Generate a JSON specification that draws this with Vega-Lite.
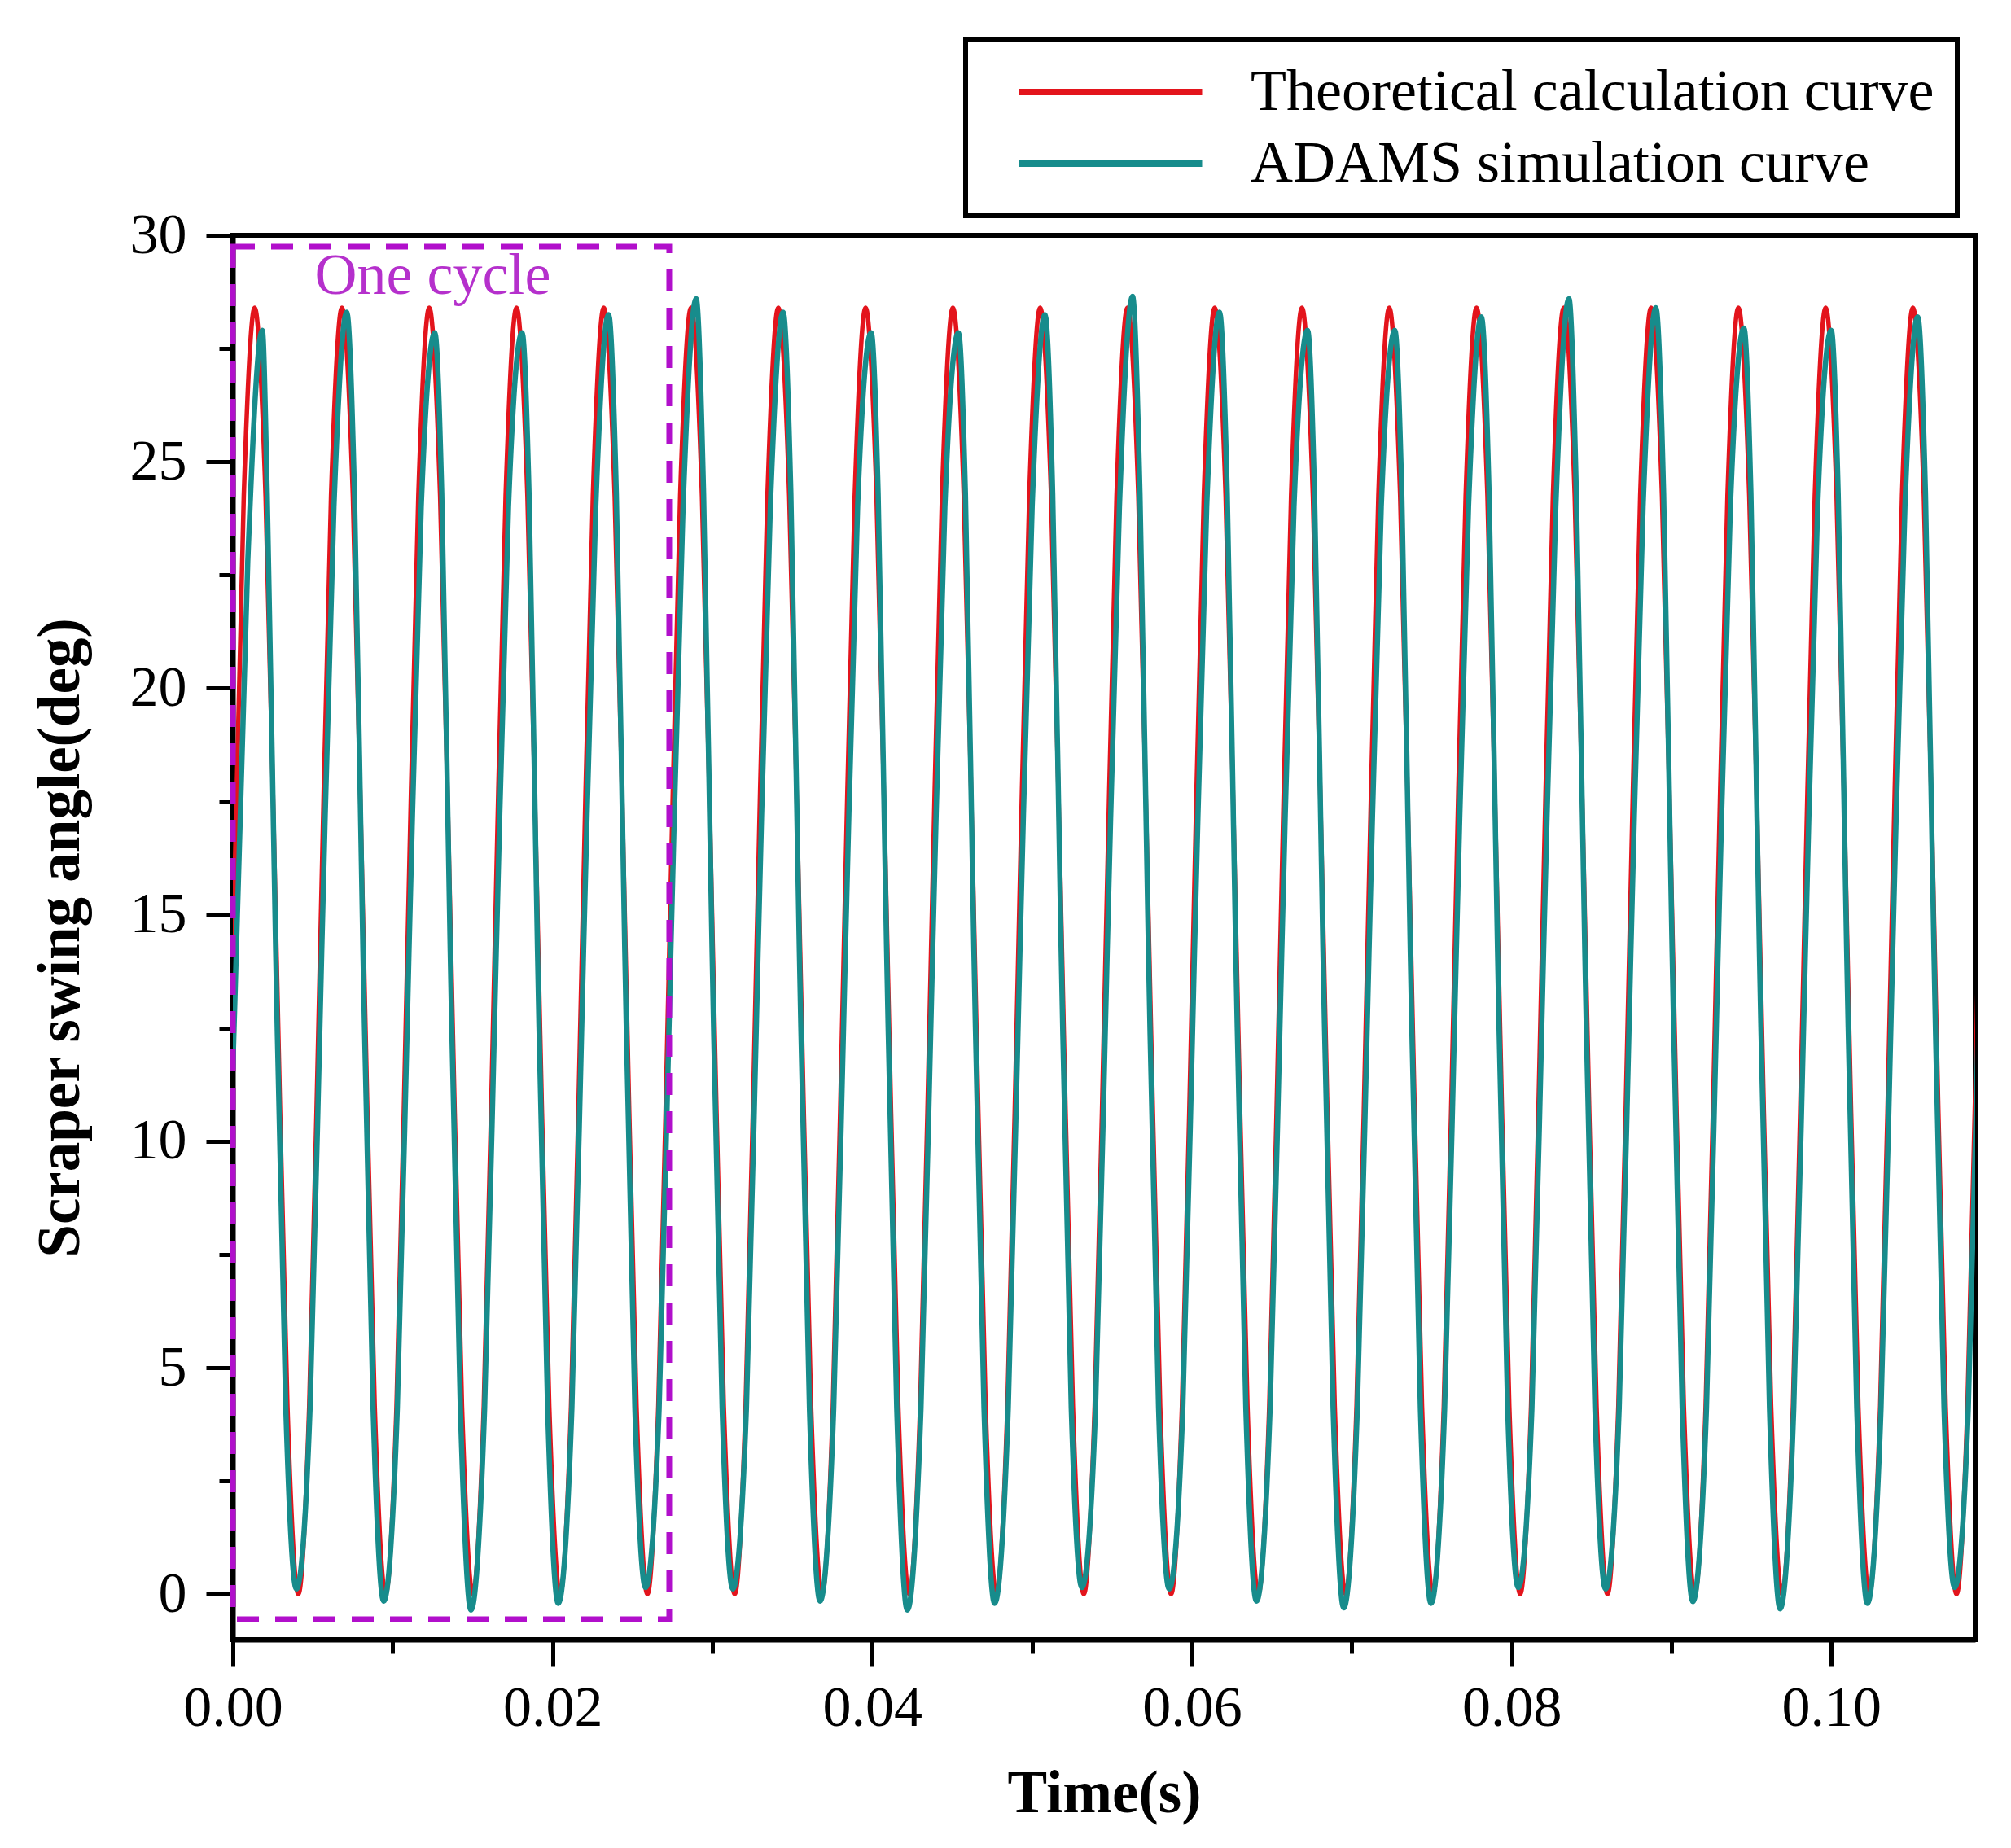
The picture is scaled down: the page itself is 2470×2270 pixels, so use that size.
{
"$schema": "https://vega.github.io/schema/vega-lite/v6.json",
"width": 2140,
"height": 1725,
"autosize": {"type": "none"},
"padding": {"left": 286, "top": 289, "right": 44, "bottom": 256},
"background": "white",
"config": {
  "font": "Liberation Serif",
  "view": {"stroke": "black", "strokeWidth": 6},
  "axis": {"grid": false, "domainColor": "black", "domainWidth": 6, "tickColor": "black", "tickWidth": 5, "labelFont": "Liberation Serif", "labelFontSize": 70, "labelColor": "black", "titleFont": "Liberation Serif", "titleFontSize": 73, "titleFontWeight": "bold", "titleColor": "black", "labelOverlap": false, "labelFlush": false},
  "legend": {"strokeWidth": 6}
},
"datasets": {
  "red": [
    {"t":0,"v":14.2},{"t":0.000683,"v":24.24},{"t":0.001365,"v":28.4},{"t":0.002048,"v":24.24},{"t":0.00273,"v":14.2},{"t":0.003413,"v":4.16},{"t":0.004095,"v":0},{"t":0.004778,"v":4.16},
    {"t":0.00546,"v":14.2},{"t":0.006143,"v":24.24},{"t":0.006825,"v":28.4},{"t":0.007508,"v":24.24},{"t":0.00819,"v":14.2},{"t":0.008873,"v":4.16},{"t":0.009555,"v":0},{"t":0.010238,"v":4.16},
    {"t":0.01092,"v":14.2},{"t":0.011603,"v":24.24},{"t":0.012285,"v":28.4},{"t":0.012968,"v":24.24},{"t":0.01365,"v":14.2},{"t":0.014333,"v":4.16},{"t":0.015015,"v":0},{"t":0.015698,"v":4.16},
    {"t":0.01638,"v":14.2},{"t":0.017063,"v":24.24},{"t":0.017745,"v":28.4},{"t":0.018428,"v":24.24},{"t":0.01911,"v":14.2},{"t":0.019793,"v":4.16},{"t":0.020475,"v":0},{"t":0.021158,"v":4.16},
    {"t":0.02184,"v":14.2},{"t":0.022523,"v":24.24},{"t":0.023205,"v":28.4},{"t":0.023888,"v":24.24},{"t":0.02457,"v":14.2},{"t":0.025253,"v":4.16},{"t":0.025935,"v":0},{"t":0.026618,"v":4.16},
    {"t":0.0273,"v":14.2},{"t":0.027983,"v":24.24},{"t":0.028665,"v":28.4},{"t":0.029348,"v":24.24},{"t":0.03003,"v":14.2},{"t":0.030713,"v":4.16},{"t":0.031395,"v":0},{"t":0.032078,"v":4.16},
    {"t":0.03276,"v":14.2},{"t":0.033443,"v":24.24},{"t":0.034125,"v":28.4},{"t":0.034808,"v":24.24},{"t":0.03549,"v":14.2},{"t":0.036173,"v":4.16},{"t":0.036855,"v":0},{"t":0.037538,"v":4.16},
    {"t":0.03822,"v":14.2},{"t":0.038903,"v":24.24},{"t":0.039585,"v":28.4},{"t":0.040268,"v":24.24},{"t":0.04095,"v":14.2},{"t":0.041633,"v":4.16},{"t":0.042315,"v":0},{"t":0.042998,"v":4.16},
    {"t":0.04368,"v":14.2},{"t":0.044363,"v":24.24},{"t":0.045045,"v":28.4},{"t":0.045728,"v":24.24},{"t":0.04641,"v":14.2},{"t":0.047093,"v":4.16},{"t":0.047775,"v":0},{"t":0.048458,"v":4.16},
    {"t":0.04914,"v":14.2},{"t":0.049823,"v":24.24},{"t":0.050505,"v":28.4},{"t":0.051188,"v":24.24},{"t":0.05187,"v":14.2},{"t":0.052553,"v":4.16},{"t":0.053235,"v":0},{"t":0.053918,"v":4.16},
    {"t":0.0546,"v":14.2},{"t":0.055283,"v":24.24},{"t":0.055965,"v":28.4},{"t":0.056648,"v":24.24},{"t":0.05733,"v":14.2},{"t":0.058013,"v":4.16},{"t":0.058695,"v":0},{"t":0.059378,"v":4.16},
    {"t":0.06006,"v":14.2},{"t":0.060743,"v":24.24},{"t":0.061425,"v":28.4},{"t":0.062108,"v":24.24},{"t":0.06279,"v":14.2},{"t":0.063473,"v":4.16},{"t":0.064155,"v":0},{"t":0.064838,"v":4.16},
    {"t":0.06552,"v":14.2},{"t":0.066203,"v":24.24},{"t":0.066885,"v":28.4},{"t":0.067568,"v":24.24},{"t":0.06825,"v":14.2},{"t":0.068933,"v":4.16},{"t":0.069615,"v":0},{"t":0.070298,"v":4.16},
    {"t":0.07098,"v":14.2},{"t":0.071663,"v":24.24},{"t":0.072345,"v":28.4},{"t":0.073028,"v":24.24},{"t":0.07371,"v":14.2},{"t":0.074393,"v":4.16},{"t":0.075075,"v":0},{"t":0.075758,"v":4.16},
    {"t":0.07644,"v":14.2},{"t":0.077123,"v":24.24},{"t":0.077805,"v":28.4},{"t":0.078488,"v":24.24},{"t":0.07917,"v":14.2},{"t":0.079853,"v":4.16},{"t":0.080535,"v":0},{"t":0.081218,"v":4.16},
    {"t":0.0819,"v":14.2},{"t":0.082583,"v":24.24},{"t":0.083265,"v":28.4},{"t":0.083948,"v":24.24},{"t":0.08463,"v":14.2},{"t":0.085313,"v":4.16},{"t":0.085995,"v":0},{"t":0.086678,"v":4.16},
    {"t":0.08736,"v":14.2},{"t":0.088043,"v":24.24},{"t":0.088725,"v":28.4},{"t":0.089408,"v":24.24},{"t":0.09009,"v":14.2},{"t":0.090773,"v":4.16},{"t":0.091455,"v":0},{"t":0.092138,"v":4.16},
    {"t":0.09282,"v":14.2},{"t":0.093503,"v":24.24},{"t":0.094185,"v":28.4},{"t":0.094868,"v":24.24},{"t":0.09555,"v":14.2},{"t":0.096233,"v":4.16},{"t":0.096915,"v":0},{"t":0.097598,"v":4.16},
    {"t":0.09828,"v":14.2},{"t":0.098963,"v":24.24},{"t":0.099645,"v":28.4},{"t":0.100328,"v":24.24},{"t":0.10101,"v":14.2},{"t":0.101693,"v":4.16},{"t":0.102375,"v":0},{"t":0.103058,"v":4.16},
    {"t":0.10374,"v":14.2},{"t":0.104423,"v":24.24},{"t":0.105105,"v":28.4},{"t":0.105788,"v":24.24},{"t":0.10647,"v":14.2},{"t":0.107153,"v":4.16},{"t":0.107835,"v":0},{"t":0.108518,"v":4.16},
    {"t":0.1092,"v":14.2},{"t":0.109883,"v":24.24}
  ],
  "teal": [
    {"t":0,"v":11.6},{"t":0.000933,"v":22.8},{"t":0.001845,"v":27.9},{"t":0.002148,"v":24.3},{"t":0.00268,"v":14.2},{"t":0.003313,"v":4.1},{"t":0.003975,"v":0.12},{"t":0.004828,"v":4.1},
    {"t":0.00556,"v":14.2},{"t":0.006323,"v":24.0},{"t":0.007125,"v":28.3},{"t":0.007608,"v":24.3},{"t":0.00814,"v":14.2},{"t":0.008773,"v":4.1},{"t":0.009435,"v":-0.15},{"t":0.010288,"v":4.1},
    {"t":0.01102,"v":14.2},{"t":0.011783,"v":24.0},{"t":0.012635,"v":27.85},{"t":0.013068,"v":24.3},{"t":0.0136,"v":14.2},{"t":0.014233,"v":4.1},{"t":0.014895,"v":-0.35},{"t":0.015748,"v":4.1},
    {"t":0.01648,"v":14.2},{"t":0.017243,"v":24.0},{"t":0.018095,"v":27.85},{"t":0.018528,"v":24.3},{"t":0.01906,"v":14.2},{"t":0.019693,"v":4.1},{"t":0.020355,"v":-0.2},{"t":0.021208,"v":4.1},
    {"t":0.02194,"v":14.2},{"t":0.022703,"v":24.0},{"t":0.023505,"v":28.25},{"t":0.023988,"v":24.3},{"t":0.02452,"v":14.2},{"t":0.025153,"v":4.1},{"t":0.025815,"v":0.15},{"t":0.026668,"v":4.1},
    {"t":0.0274,"v":14.2},{"t":0.028163,"v":24.0},{"t":0.028985,"v":28.6},{"t":0.029448,"v":24.3},{"t":0.02998,"v":14.2},{"t":0.030613,"v":4.1},{"t":0.031275,"v":0.12},{"t":0.032128,"v":4.1},
    {"t":0.03286,"v":14.2},{"t":0.033623,"v":24.0},{"t":0.034425,"v":28.3},{"t":0.034908,"v":24.3},{"t":0.03544,"v":14.2},{"t":0.036073,"v":4.1},{"t":0.036735,"v":-0.15},{"t":0.037588,"v":4.1},
    {"t":0.03832,"v":14.2},{"t":0.039083,"v":24.0},{"t":0.039935,"v":27.85},{"t":0.040368,"v":24.3},{"t":0.0409,"v":14.2},{"t":0.041533,"v":4.1},{"t":0.042195,"v":-0.35},{"t":0.043048,"v":4.1},
    {"t":0.04378,"v":14.2},{"t":0.044543,"v":24.0},{"t":0.045395,"v":27.85},{"t":0.045828,"v":24.3},{"t":0.04636,"v":14.2},{"t":0.046993,"v":4.1},{"t":0.047655,"v":-0.2},{"t":0.048508,"v":4.1},
    {"t":0.04924,"v":14.2},{"t":0.050003,"v":24.0},{"t":0.050805,"v":28.25},{"t":0.051288,"v":24.3},{"t":0.05182,"v":14.2},{"t":0.052453,"v":4.1},{"t":0.053115,"v":0.15},{"t":0.053968,"v":4.1},
    {"t":0.0547,"v":14.2},{"t":0.055463,"v":24.0},{"t":0.056285,"v":28.65},{"t":0.056748,"v":24.3},{"t":0.05728,"v":14.2},{"t":0.057913,"v":4.1},{"t":0.058575,"v":0.12},{"t":0.059428,"v":4.1},
    {"t":0.06016,"v":14.2},{"t":0.060923,"v":24.0},{"t":0.061725,"v":28.3},{"t":0.062208,"v":24.3},{"t":0.06274,"v":14.2},{"t":0.063373,"v":4.1},{"t":0.064035,"v":-0.15},{"t":0.064888,"v":4.1},
    {"t":0.06562,"v":14.2},{"t":0.066383,"v":24.0},{"t":0.067235,"v":27.9},{"t":0.067668,"v":24.3},{"t":0.0682,"v":14.2},{"t":0.068833,"v":4.1},{"t":0.069495,"v":-0.3},{"t":0.070348,"v":4.1},
    {"t":0.07108,"v":14.2},{"t":0.071843,"v":24.0},{"t":0.072695,"v":27.9},{"t":0.073128,"v":24.3},{"t":0.07366,"v":14.2},{"t":0.074293,"v":4.1},{"t":0.074955,"v":-0.2},{"t":0.075808,"v":4.1},
    {"t":0.07654,"v":14.2},{"t":0.077303,"v":24.0},{"t":0.078105,"v":28.2},{"t":0.078588,"v":24.3},{"t":0.07912,"v":14.2},{"t":0.079753,"v":4.1},{"t":0.080415,"v":0.15},{"t":0.081268,"v":4.1},
    {"t":0.082,"v":14.2},{"t":0.082763,"v":24.0},{"t":0.083585,"v":28.6},{"t":0.084048,"v":24.3},{"t":0.08458,"v":14.2},{"t":0.085213,"v":4.1},{"t":0.085875,"v":0.12},{"t":0.086728,"v":4.1},
    {"t":0.08746,"v":14.2},{"t":0.088223,"v":24.0},{"t":0.089025,"v":28.4},{"t":0.089508,"v":24.3},{"t":0.09004,"v":14.2},{"t":0.090673,"v":4.1},{"t":0.091335,"v":-0.16},{"t":0.092188,"v":4.1},
    {"t":0.09292,"v":14.2},{"t":0.093683,"v":24.0},{"t":0.094535,"v":27.95},{"t":0.094968,"v":24.3},{"t":0.0955,"v":14.2},{"t":0.096133,"v":4.1},{"t":0.096795,"v":-0.32},{"t":0.097648,"v":4.1},
    {"t":0.09838,"v":14.2},{"t":0.099143,"v":24.0},{"t":0.099995,"v":27.9},{"t":0.100428,"v":24.3},{"t":0.10096,"v":14.2},{"t":0.101593,"v":4.1},{"t":0.102255,"v":-0.2},{"t":0.103108,"v":4.1},
    {"t":0.10384,"v":14.2},{"t":0.104603,"v":24.0},{"t":0.105405,"v":28.2},{"t":0.105888,"v":24.3},{"t":0.10642,"v":14.2},{"t":0.107053,"v":4.1},{"t":0.107715,"v":0.15},{"t":0.108568,"v":4.1},
    {"t":0.1093,"v":14.2},{"t":0.110063,"v":24.0}
  ],
  "box": [{"t":0,"t2":0.0273,"v":-0.55,"v2":29.75}],
  "note": [{"t":0.0125,"v":29.1,"label":"One cycle"}]
},
"encoding": {
  "x": {"field": "t", "type": "quantitative", "scale": {"domain": [0, 0.109], "nice": false, "zero": false},
        "axis": {"title": "Time(s)", "values": [0,0.01,0.02,0.03,0.04,0.05,0.06,0.07,0.08,0.09,0.1],
                 "labelExpr": "round(datum.value*100) % 2 == 0 ? format(datum.value, '.2f') : ''",
                 "tickSize": {"condition": {"test": "round(datum.value*100) % 2 != 0", "value": 17}, "value": 33},
                 "labelPadding": 17, "titlePadding": 34}},
  "y": {"field": "v", "type": "quantitative", "scale": {"domain": [-1, 30], "nice": false, "zero": false},
        "axis": {"title": "Scraper swing angle(deg)", "values": [0,2.5,5,7.5,10,12.5,15,17.5,20,22.5,25,27.5,30],
                 "labelExpr": "datum.value % 5 == 0 ? format(datum.value, 'd') : ''",
                 "tickSize": {"condition": {"test": "datum.value % 5 != 0", "value": 17}, "value": 33},
                 "labelPadding": 24, "titlePadding": 48}}
},
"layer": [
  {"data": {"name": "red"},
   "mark": {"type": "line", "interpolate": "monotone", "strokeWidth": 5.5, "clip": true},
   "encoding": {"color": {"datum": "Theoretical calculation curve", "type": "nominal",
      "scale": {"domain": ["Theoretical calculation curve", "ADAMS simulation curve"], "range": ["#E3141C", "#178C8C"]},
      "legend": {"title": null, "orient": "none", "legendX": 900, "legendY": -240, "symbolType": "M-5,0H5", "symbolSize": 2025, "symbolStrokeWidth": 8,
                 "labelFont": "Liberation Serif", "labelFontSize": 72, "labelColor": "black", "labelLimit": 3000,
                 "strokeColor": "black", "fillColor": "white", "padding": 28, "symbolOffset": 114, "labelOffset": 136, "rowPadding": 16}}}},
  {"data": {"name": "teal"},
   "mark": {"type": "line", "interpolate": "monotone", "strokeWidth": 6.5, "clip": true},
   "encoding": {"color": {"datum": "ADAMS simulation curve", "type": "nominal"}}},
  {"data": {"name": "box"},
   "mark": {"type": "rect", "fill": "transparent", "stroke": "#B10FCB", "strokeWidth": 7, "strokeDash": [27, 20]},
   "encoding": {"x2": {"field": "t2"}, "y2": {"field": "v2"}}},
  {"data": {"name": "note"},
   "mark": {"type": "text", "font": "Liberation Serif", "fontSize": 72, "color": "#B530CC", "align": "center", "baseline": "middle"},
   "encoding": {"text": {"field": "label"}}}
]
}
